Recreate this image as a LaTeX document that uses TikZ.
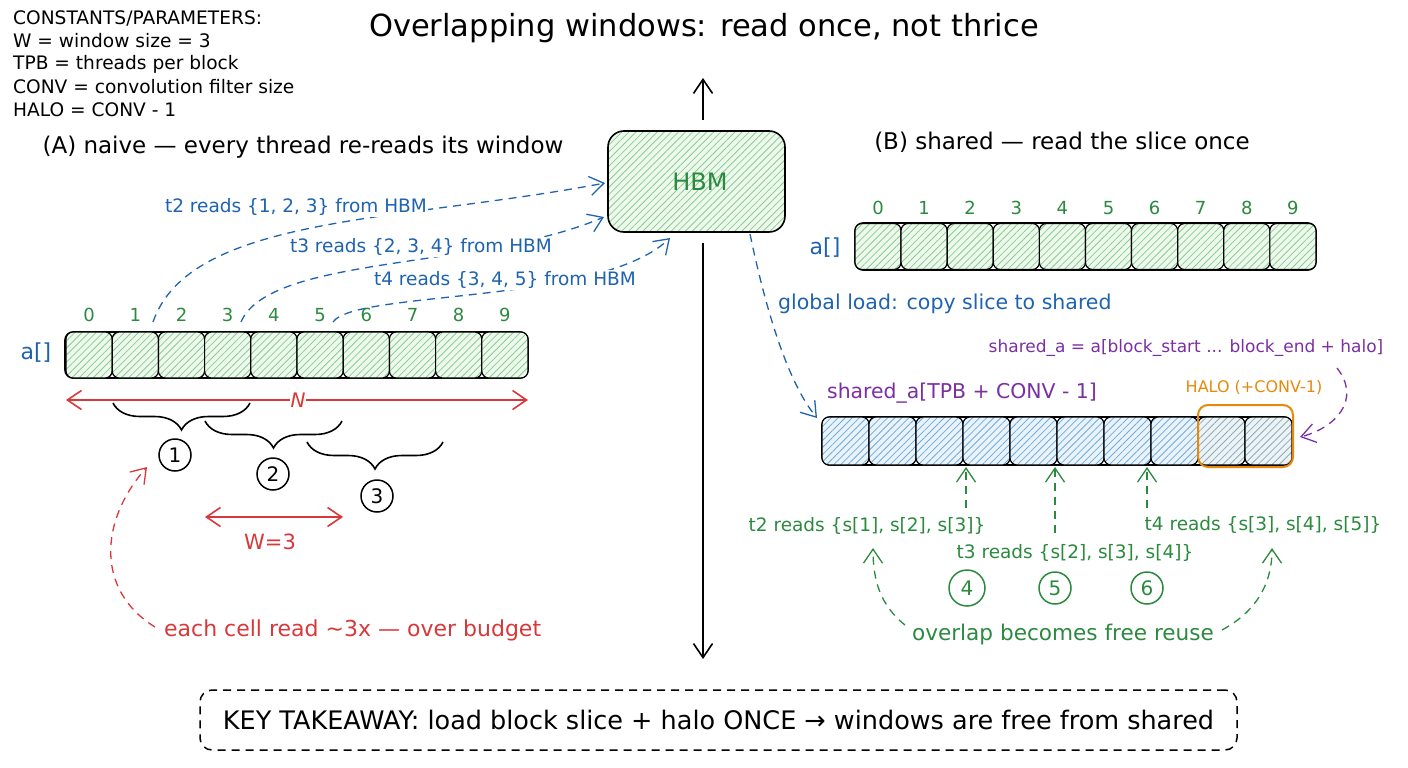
\documentclass[tikz,border=0pt]{standalone}
\usepackage{fontspec}
\setmainfont{DejaVu Sans}
\usetikzlibrary{arrows.meta,patterns.meta,decorations.pathreplacing}
\definecolor{cblue}{HTML}{1E63B0}
\definecolor{cgreen}{HTML}{2B8A3E}
\definecolor{cred}{HTML}{D9383A}
\definecolor{cpurple}{HTML}{7B2FA3}
\definecolor{corange}{HTML}{E8890C}
\definecolor{gfill}{HTML}{EEF9EE}
\definecolor{ghatch}{HTML}{8CCB90}
\definecolor{bfill}{HTML}{E8F3FC}
\definecolor{bhatch}{HTML}{74AAD6}
\definecolor{hhatch}{HTML}{9EA89E}
\begin{document}
\begin{tikzpicture}[x=1pt,y=-1pt,
  >={Straight Barb[length=14pt,width=19pt]},
  lbl/.style={inner sep=1pt, font=\fontsize{18.5}{21}\selectfont},
  conline/.style={anchor=west, inner sep=0pt, font=\fontsize{18.6}{21}\selectfont},
  head/.style={inner sep=1pt, font=\fontsize{23}{26}\selectfont},
  idx/.style={inner sep=0pt, text=cgreen, font=\fontsize{18}{20}\selectfont},
  arrbox/.style={draw=black, line width=1.6pt, rounded corners=8pt, inner sep=0pt},
  cellbase/.style={draw=black, line width=1.2pt, rounded corners=7pt, inner sep=0pt, minimum height=46pt},
  gcell/.style={cellbase, minimum width=46.2pt, preaction={fill=gfill}, pattern={Lines[angle=45,distance=5pt,line width=0.8pt]}, pattern color=ghatch},
  rcell/.style={cellbase, minimum width=46.1pt, preaction={fill=gfill}, pattern={Lines[angle=45,distance=5pt,line width=0.8pt]}, pattern color=ghatch},
  bcell/.style={cellbase, minimum width=47pt, minimum height=48pt, preaction={fill=bfill}, pattern={Lines[angle=45,distance=5pt,line width=0.8pt]}, pattern color=bhatch},
  hcell/.style={cellbase, minimum width=47pt, minimum height=48pt, preaction={fill=bfill}, pattern={Lines[angle=45,distance=5pt,line width=0.8pt]}, pattern color=hhatch},
  circ/.style={circle, draw, line width=1.5pt, minimum size=32pt, inner sep=0pt, font=\fontsize{20}{22}\selectfont},
  dashconn/.style={dashed, dash pattern=on 8pt off 6pt, line width=1.3pt},
  solidarrow/.style={line width=1.6pt},
  bracestyle/.style={decorate, decoration={brace, mirror, amplitude=27pt}, line width=1.6pt},
]
\useasboundingbox (0,0) rectangle (1408,768);

% constants
\node[conline] (k1) at (13,18) {CONSTANTS/PARAMETERS:};
\node[conline] (k2) at (13,41) {W = window size = 3};
\node[conline] (k3) at (13,64) {TPB = threads per block};
\node[conline] (k4) at (13,87) {CONV = convolution filter size};
\node[conline] (k5) at (13,110) {HALO = CONV - 1};

% title
\node[inner sep=0pt, font=\fontsize{30.5}{34}\selectfont] (title) at (704,28) {Overlapping windows: read once, not thrice};

% HBM
\node[draw=black, line width=1.6pt, rounded corners=16pt, minimum width=177pt, minimum height=101pt,
  preaction={fill=gfill}, pattern={Lines[angle=45,distance=5pt,line width=0.8pt]}, pattern color=ghatch] (hbm) at (696.5,181.5) {};
\node[text=cgreen, font=\fontsize{24}{26}\selectfont] (hbmtxt) at (700,182) {HBM};
\coordinate (upS) at (703,120);
\coordinate (upE) at (703,78);
\draw[->, solidarrow] (upS) -- (upE);
\coordinate (dnS) at (703,243);
\coordinate (dnE) at (703,659);
\draw[->, solidarrow] (dnS) -- (dnE);

% headings
\node[head] (hA) at (303,147) {(A) naive — every thread re-reads its window};
\node[head] (hB) at (1062,142) {(B) shared — read the slice once};

% left array
\node[arrbox, minimum width=463pt, minimum height=46pt] (larr) at (296.5,355) {};
\foreach \i in {0,...,9} {
  \node[gcell] (L\i) at ({89.1+46.2*\i},355) {};
  \node[idx] (Li\i) at ({89.1+46.2*\i},315) {\i};
}
\node[lbl, text=cblue, font=\fontsize{22}{24}\selectfont] (la) at (36,353) {a[]};

% blue read curves
\coordinate (s2) at (153,322);
\coordinate (s3) at (241,322);
\coordinate (s4) at (333,322);
\coordinate (h2) at (605,183);
\coordinate (h3) at (604,217);
\coordinate (h4) at (670,238);
\draw[->, dashconn, cblue] (s2) .. controls (190,215) and (400,222) .. (h2);
\draw[->, dashconn, cblue] (s3) .. controls (270,255) and (480,270) .. (h3);
\draw[->, dashconn, cblue] (s4) .. controls (355,290) and (600,305) .. (h4);
\node[lbl, fill=white, text=cblue] (t2) at (296,207) {t2 reads \{1, 2, 3\} from HBM};
\node[lbl, fill=white, text=cblue] (t3) at (421,247) {t3 reads \{2, 3, 4\} from HBM};
\node[lbl, fill=white, text=cblue] (t4) at (505,280) {t4 reads \{3, 4, 5\} from HBM};

% N arrow
\coordinate (nL) at (66,400);
\coordinate (nR) at (528,400);
\draw[<->, solidarrow, cred] (nL) -- (nR);
\node[lbl, fill=white, text=cred, font=\fontsize{20}{22}\selectfont\itshape] (nN) at (298,400) {N};

% braces
\draw[bracestyle] (113,403) -- (250,403);
\draw[bracestyle] (205,421) -- (342,421);
\draw[bracestyle] (307,442) -- (443,442);
\node[circ] (c1) at (175,455) {1};
\node[circ] (c2) at (273,474) {2};
\node[circ] (c3) at (377,496) {3};

% W=3
\coordinate (wL) at (205,517);
\coordinate (wR) at (343,517);
\draw[<->, solidarrow, cred] (wL) -- (wR);
\node[lbl, text=cred, font=\fontsize{21}{23}\selectfont] (w3) at (270,542) {W=3};

% red note
\node[lbl, text=cred, anchor=west, font=\fontsize{22}{24}\selectfont] (note) at (163,630) {each cell read \textasciitilde3x — over budget};
\coordinate (rS) at (155,627);
\coordinate (rE) at (147,467);
\draw[->, dashconn, cred] (rS) .. controls (95,590) and (100,520) .. (rE);

% right top array
\node[arrbox, minimum width=461pt, minimum height=47pt] (rarr) at (1085.5,246.5) {};
\foreach \i in {0,...,9} {
  \node[rcell] (R\i) at ({878+46.1*\i},246.5) {};
  \node[idx] (Ri\i) at ({878+46.1*\i},208) {\i};
}
\node[lbl, text=cblue, font=\fontsize{22}{24}\selectfont] (ra) at (825,248) {a[]};

% global load
\coordinate (gS) at (750,234);
\coordinate (gE) at (817,418);
\draw[->, dashconn, cblue] (gS) .. controls (768,320) and (790,385) .. (gE);
\node[lbl, text=cblue, anchor=west, font=\fontsize{20.5}{23}\selectfont] (gl) at (777,304) {global load: copy slice to shared};

% shared array
\node[arrbox, minimum width=470pt, minimum height=48pt] (sarr) at (1057,441) {};
\foreach \i in {0,...,7} {
  \node[bcell] (S\i) at ({845.5+47*\i},441) {};
}
\foreach \i in {8,9} {
  \node[hcell] (S\i) at ({845.5+47*\i},441) {};
}
\node[draw=corange, line width=2pt, rounded corners=10pt, minimum width=95pt, minimum height=62pt, inner sep=0pt] (halo) at (1245.5,436) {};
\node[lbl, text=corange, font=\fontsize{16}{18}\selectfont] (halot) at (1254,387) {HALO (+CONV-1)};
\node[lbl, text=cpurple, font=\fontsize{20.4}{22}\selectfont] (sdecl) at (962,393) {shared\_a[TPB + CONV - 1]};
\node[lbl, text=cpurple, font=\fontsize{17}{19}\selectfont] (sdef) at (1186,348) {shared\_a = a[block\_start ... block\_end + halo]};
\coordinate (pS) at (1337,368);
\coordinate (pE) at (1300,437);
\draw[->, dashconn, cpurple] (pS) .. controls (1362,400) and (1335,428) .. (pE);

% green reads
\node[lbl, text=cgreen] (g2) at (867,526) {t2 reads \{s[1], s[2], s[3]\}};
\node[lbl, text=cgreen] (g3) at (1075,553) {t3 reads \{s[2], s[3], s[4]\}};
\node[lbl, text=cgreen] (g4) at (1263,525) {t4 reads \{s[3], s[4], s[5]\}};
\coordinate (a1) at (966,508);
\coordinate (a2) at (1055,533);
\coordinate (a3) at (1147,508);
\draw[->, dashconn, cgreen] (a1) -- (966,467);
\draw[->, dashconn, cgreen] (a2) -- (1055,467);
\draw[->, dashconn, cgreen] (a3) -- (1147,467);
\node[circ, draw=cgreen, text=cgreen, minimum height=36pt, minimum width=32pt] (c4) at (967,588) {4};
\node[circ, draw=cgreen, text=cgreen] (c5) at (1055,588) {5};
\node[circ, draw=cgreen, text=cgreen] (c6) at (1147,588) {6};
\node[lbl, text=cgreen, font=\fontsize{21.6}{24}\selectfont] (ovl) at (1063,635) {overlap becomes free reuse};
\coordinate (oL) at (905,625);
\coordinate (oLE) at (873,548);
\coordinate (oR) at (1222,630);
\coordinate (oRE) at (1272,548);
\draw[->, dashconn, cgreen] (oL) .. controls (880,605) and (873,580) .. (oLE);
\draw[->, dashconn, cgreen] (oR) .. controls (1250,615) and (1272,590) .. (oRE);

% takeaway
\node[draw=black, dashed, dash pattern=on 8pt off 6pt, line width=1.5pt, rounded corners=12pt, minimum width=1037pt, minimum height=60pt, font=\fontsize{25.5}{28}\selectfont] (take) at (718.5,720) {KEY TAKEAWAY: load block slice + halo ONCE → windows are free from shared};
\end{tikzpicture}
\end{document}
